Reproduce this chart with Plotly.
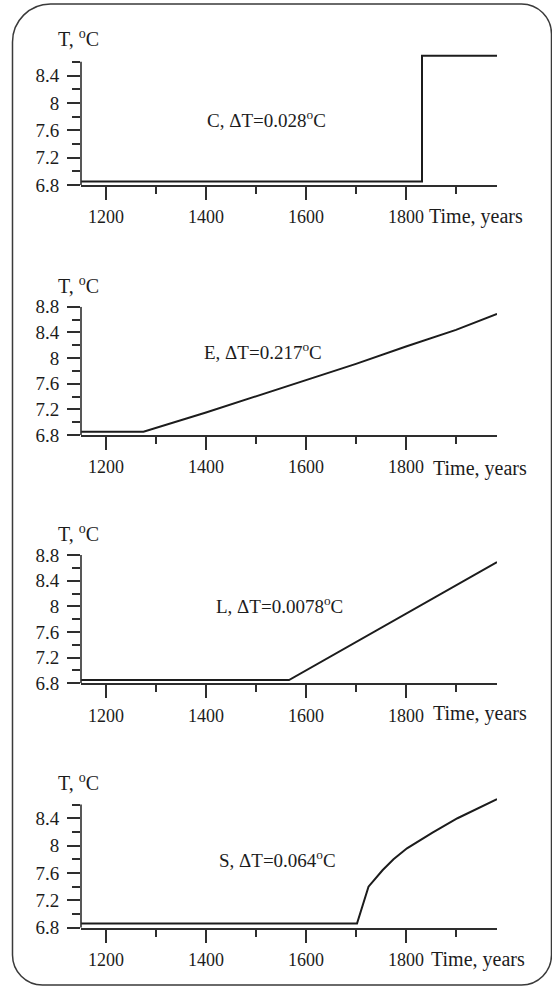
import plotly.graph_objects as go

# ---- data -------------------------------------------------------------
years_C = [1150, 1832, 1832, 1982]
temp_C = [6.85, 6.85, 8.69, 8.69]

years_E = [1150, 1275, 1400, 1540, 1600, 1700, 1800, 1900, 1982]
temp_E = [6.85, 6.85, 7.15, 7.50, 7.65, 7.91, 8.18, 8.44, 8.69]

years_L = [1150, 1566, 1982]
temp_L = [6.85, 6.85, 8.69]

years_S = [1150, 1702, 1725, 1753, 1775, 1802, 1853, 1903, 1982]
temp_S = [6.86, 6.86, 7.40, 7.64, 7.80, 7.96, 8.19, 8.40, 8.68]

panel_labels = ["C, \u0394T=0.028<sup>o</sup>C",
                "E, \u0394T=0.217<sup>o</sup>C",
                "L, \u0394T=0.0078<sup>o</sup>C",
                "S, \u0394T=0.064<sup>o</sup>C"]
y_title = "T, <sup>o</sup>C"
x_title = "Time, years"
x_range = [1150, 1982]
y_ranges = [[6.8, 8.75], [6.8, 8.801], [6.8, 8.801], [6.8, 8.75]]
y_axis_tops = [8.6, 8.8, 8.8, 8.6]

# ---- layout helpers (page is 552 x 986, margins zero) -----------------
W, H = 552, 986
FONT = "Liberation Serif, Times New Roman, serif"
INK = "#1c1c1c"
AXIS = "#2e2e2e"


def px(x):
    return x / W


def py(y):
    return 1 - y / H


# pixel rows of each panel: (y of range top, y of 6.8)
panel_rows = [(51.6, 185.0), (306.7, 435.0), (555.0, 683.3), (794.3, 927.7)]
ann_pos = [(266, 119), (263, 351), (279, 605), (277, 859)]
ytitle_pos = [(78, 38), (78, 285), (78, 533), (78, 782)]
xtitle_pos = [(427, 217), (431, 468), (431, 713), (429, 959)]

series = [(years_C, temp_C), (years_E, temp_E),
          (years_L, temp_L), (years_S, temp_S)]

fig = go.Figure()
layout = dict(
    width=W, height=H,
    margin=dict(l=0, r=0, t=0, b=0, autoexpand=False),
    paper_bgcolor="white", plot_bgcolor="white",
    showlegend=False,
    font=dict(family=FONT, color=INK, size=18),
)
annotations = []
shapes = []

for i, ((xs, ys), (top, bot)) in enumerate(zip(series, panel_rows)):
    n = "" if i == 0 else str(i + 1)
    xa, ya = "x" + n, "y" + n
    fig.add_trace(go.Scatter(x=xs, y=ys, mode="lines", xaxis=xa, yaxis=ya,
                             line=dict(color=INK, width=2),
                             hoverinfo="skip"))
    layout["xaxis" + n] = dict(
        domain=[px(81), px(497)], range=x_range, anchor=ya,
        automargin=False,
        showgrid=False, zeroline=False,
        showline=True, linecolor=AXIS, linewidth=1.6,
        tickmode="linear", tick0=1200, dtick=200,
        ticks="outside", ticklen=13, tickwidth=1.5, tickcolor=AXIS,
        minor=dict(ticks="outside", ticklen=7, tickwidth=1.5,
                   tickcolor=AXIS, dtick=100, tick0=1100, showgrid=False),
        tickfont=dict(family=FONT, size=18, color=INK),
        ticklabelstandoff=2,
    )
    layout["yaxis" + n] = dict(
        domain=[py(bot), py(top)], range=y_ranges[i], anchor=xa,
        automargin=False,
        showgrid=False, zeroline=False, showline=False,
        tickmode="linear", tick0=6.8, dtick=0.4,
        ticks="outside", ticklen=13, tickwidth=1.5, tickcolor=AXIS,
        minor=dict(ticks="outside", ticklen=8, tickwidth=1.5,
                   tickcolor=AXIS, dtick=0.2, tick0=6.8, showgrid=False),
        tickfont=dict(family=FONT, size=19, color=INK),
        ticklabelstandoff=4,
    )
    # vertical axis line, ending at the last (minor) tick
    shapes.append(dict(type="line", xref=xa + " domain", yref=ya,
                       x0=0, x1=0, y0=6.8, y1=y_axis_tops[i],
                       line=dict(color=AXIS, width=1.6)))
    ax, ay = ann_pos[i]
    annotations.append(dict(text=panel_labels[i], x=px(ax), y=py(ay),
                            xref="paper", yref="paper", showarrow=False,
                            xanchor="center", yanchor="middle",
                            font=dict(family=FONT, size=19, color=INK)))
    tx, ty = ytitle_pos[i]
    annotations.append(dict(text=y_title, x=px(tx), y=py(ty),
                            xref="paper", yref="paper", showarrow=False,
                            xanchor="center", yanchor="middle",
                            font=dict(family=FONT, size=20, color=INK)))
    hx, hy = xtitle_pos[i]
    annotations.append(dict(text=x_title, x=px(hx), y=py(hy),
                            xref="paper", yref="paper", showarrow=False,
                            xanchor="left", yanchor="middle",
                            font=dict(family=FONT, size=20, color=INK)))

# rounded outer frame
L, T, R, B = 12.5, 4.0, 551.5, 985.0
rtl, r = 38.0, 30.0
k = 0.5523


def P(x, y):
    return f"{px(x):.5f},{py(y):.5f}"


frame = (
    f"M {P(L, T + rtl)} "
    f"C {P(L, T + rtl - k * rtl)} {P(L + rtl - k * rtl, T)} {P(L + rtl, T)} "
    f"L {P(R - r, T)} "
    f"C {P(R - r + k * r, T)} {P(R, T + r - k * r)} {P(R, T + r)} "
    f"L {P(R, B - r)} "
    f"C {P(R, B - r + k * r)} {P(R - r + k * r, B)} {P(R - r, B)} "
    f"L {P(L + r, B)} "
    f"C {P(L + r - k * r, B)} {P(L, B - r + k * r)} {P(L, B - r)} Z"
)
shapes.append(dict(type="path", xref="paper", yref="paper", path=frame,
                   line=dict(color="#3a3a3a", width=1.5), layer="below"))

layout["annotations"] = annotations
layout["shapes"] = shapes
fig.update_layout(**layout)

fig.write_html("out.html")
